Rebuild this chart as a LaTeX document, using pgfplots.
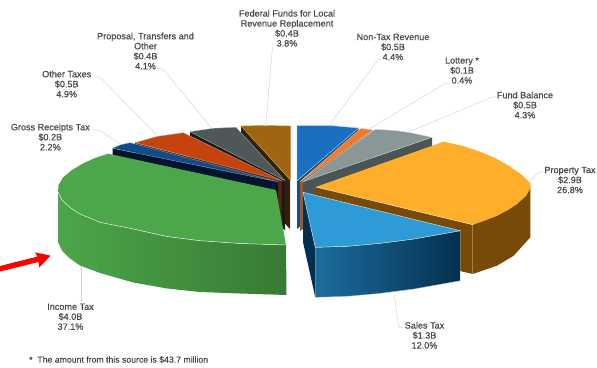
\documentclass[border=0pt]{standalone}
\usepackage{pgfplots}
\pgfplotsset{compat=1.18}
\usepackage{fontspec}
\setmainfont[FakeBold=0.35]{Liberation Sans}
% slice colours: top face and side wall
\definecolor{incomeT}{HTML}{4CA64A}
\definecolor{incomeD}{HTML}{387A34}
\definecolor{propT}{HTML}{FFAE2B}
\definecolor{propW}{HTML}{774A08}
\definecolor{salesT}{HTML}{2E9BD6}
\definecolor{salesL}{HTML}{1B6D9E}
\definecolor{salesM}{HTML}{0E4C72}
\definecolor{salesD}{HTML}{04304F}
\definecolor{nontaxT}{HTML}{1B6FC0}
\definecolor{nontaxW}{HTML}{134F8A}
\definecolor{lotT}{HTML}{F07A2B}
\definecolor{lotW}{HTML}{A85520}
\definecolor{fundT}{HTML}{8A9797}
\definecolor{fundW}{HTML}{4A5454}
\definecolor{fedT}{HTML}{9F6514}
\definecolor{fedW}{HTML}{33200A}
\definecolor{propoT}{HTML}{4E5858}
\definecolor{propoW}{HTML}{181C1C}
\definecolor{otherT}{HTML}{C5430F}
\definecolor{otherW}{HTML}{5E2410}
\definecolor{grossT}{HTML}{0F4C88}
\definecolor{grossW}{HTML}{02152E}
\definecolor{leader}{HTML}{CFCFCF}
\definecolor{edge}{HTML}{E4EAE4}
\definecolor{labeltext}{HTML}{484848}
\tikzset{lab/.style={font=\fontsize{9.1}{10}\selectfont, text=labeltext, align=center, inner sep=0pt}}
\begin{document}
\begin{tikzpicture}
\useasboundingbox (0,0) rectangle (597pt,367pt);
\begin{axis}[
  width=597pt, height=367pt, scale only axis,
  xmin=0, xmax=597, ymin=0, ymax=367, y dir=reverse,
  axis lines=none, clip=false,
]
% --- back slices, left of the gap ---
\addplot[fill=fedW, draw=none] coordinates {(241,126) (290,180) (290,229) (241,176)} --cycle;
\addplot[fill=fedT, draw=fedT!60!yellow, line width=0.4pt] coordinates {(241,126) (265,125.5) (290.5,126) (290.5,180)} --cycle;
\addplot[fill=propoW, draw=none] coordinates {(190,131.7) (285,180.7) (285,230) (190,181.7)} --cycle;
\addplot[fill=propoT, draw=edge!60!propoT, line width=0.3pt] coordinates {(190,131.7) (213.3,128.3) (236,127.3) (285,180.7)} --cycle;
\addplot[fill=otherW, draw=none] coordinates {(135,142.7) (281.7,180.7) (281.7,230) (135,192.7)} --cycle;
\addplot[fill=otherT, draw=edge!60!otherT, line width=0.3pt] coordinates {(135,142.7) (156.7,136.5) (183.3,132.7) (281.7,180.7)} --cycle;
\addplot[fill=grossW, draw=none] coordinates {(112.7,148.3) (278,182) (278,232) (112.7,198)} --cycle;
\addplot[fill=grossT, draw=edge!60!grossT, line width=0.3pt] coordinates {(112.7,148.3) (120,145) (130,142.7) (278,181.7)} --cycle;
% --- income tax ---
\addplot[draw=none, left color=incomeT, middle color=incomeT, right color=incomeD] coordinates {
  (58,192) (62,200) (70,207.5) (80,214) (100,222.3) (133.3,229) (167,236.5) (200,240.7) (240,243.5) (286,245)
  (286.5,295) (240,293.5) (200,292) (167,288.5) (133.3,282.5) (100,273) (80,265.5) (70,258.5) (62,250.5) (58,242)
} --cycle;
\addplot[fill=incomeT, draw=none] coordinates {
  (108.3,153.7) (95,158) (83,163.5) (72,170) (63,177.5) (58.5,185) (58,192) (62,200) (70,207.5) (80,214)
  (100,222.3) (133.3,229) (167,236.5) (200,240.7) (240,243.5) (286,245) (276,190)
} --cycle;
\addplot[draw=edge, line width=0.5pt] coordinates {
  (58,192) (62,200) (70,207.5) (80,214) (100,222.3) (133.3,229) (167,236.5) (200,240.7) (240,243.5) (286,245)
};
% --- front and right slices ---
\addplot[fill=nontaxW, draw=none] coordinates {(358.7,128) (297,180.7) (297,229) (358.7,178)} --cycle;
\addplot[fill=nontaxT, draw=edge!80!nontaxT, line width=0.4pt] coordinates {(297,125.5) (330,125.5) (358.7,128) (297,180.7)} --cycle;
\addplot[fill=lotW, draw=none] coordinates {(373,130) (300,181.7) (300,231) (373,180)} --cycle;
\addplot[fill=lotT, draw=edge!80!lotT, line width=0.3pt] coordinates {(361,128.3) (373,130) (300,181.7)} --cycle;
\addplot[fill=fundW, draw=none] coordinates {(432,137.3) (303,181.7) (303,232) (432,187)} --cycle;
\addplot[fill=fundT, draw=edge!80!fundT, line width=0.3pt] coordinates {(375.3,129.3) (395,130.5) (410.3,132.7) (432,137.3) (303,181.7)} --cycle;
% property tax
\addplot[fill=propW, draw=none] coordinates {
  (315.7,187) (472.7,224.7) (497,215.7) (517,204) (530.3,187.3) (530.3,237.3) (513.7,255.7) (497,265.7) (472.7,274) (315.7,237)
} --cycle;
\addplot[fill=propT, draw=none] coordinates {
  (315.7,187) (443.7,141.7) (463,146) (480.3,151.7) (496,158.5) (510.3,166.7) (522,175) (530.3,183) (530.8,187.5)
  (526,196) (517,204) (508,210) (497,215.7) (485,220.5) (472.7,224.7)
} --cycle;
\addplot[draw=edge, line width=0.4pt] coordinates {(315.7,187) (472.7,224.7) (472.7,274)};
% sales tax
\addplot[fill=salesD, draw=none] coordinates {(303,192.3) (303,242) (315.3,297.3) (315.3,247.3)} --cycle;
\addplot[draw=edge!70!salesL, line width=0.3pt, left color=salesL, middle color=salesM, right color=salesD] coordinates {
  (315.3,247.3) (347,246.3) (380.3,243.3) (413.7,239) (460.3,230.7)
  (460.3,280.7) (413.7,289) (380.3,293.3) (347,296.3) (315.3,297.3)
} --cycle;
\addplot[fill=salesT, draw=edge, line width=0.4pt] coordinates {
  (303,192.3) (460.3,230.7) (413.7,239) (380.3,243.3) (347,246.3) (315.3,247.3)
} --cycle;
% --- leader lines ---
\addplot[leader, line width=0.4pt] coordinates {(276,46.7) (272.5,46.7) (265.7,126)};
\addplot[leader, line width=0.4pt] coordinates {(156.7,68.3) (163.3,69.3) (211.7,128.3)};
\addplot[leader, line width=0.4pt] coordinates {(94,76) (100,77.3) (156.7,135)};
\addplot[leader, line width=0.4pt] coordinates {(92.7,129.3) (100,130.7) (120,144)};
\addplot[leader, line width=0.4pt] coordinates {(381,59.3) (378,60) (329.3,125)};
\addplot[leader, line width=0.4pt] coordinates {(450.3,83) (445.3,83.3) (370.3,128.3)};
\addplot[leader, line width=0.4pt] coordinates {(497,96.7) (491.3,97.3) (407,132.7)};
\addplot[leader, line width=0.4pt] coordinates {(544.3,171.7) (538.7,172.3) (528.7,182.7)};
\addplot[leader, line width=0.4pt] coordinates {(81,265.7) (81,302.3)};
\addplot[leader, line width=0.4pt] coordinates {(394.3,294.7) (398.7,327.3) (404.3,328)};
% --- red pointer ---
\addplot[fill=red, draw=none] coordinates {
  (0,266) (37.5,256.6) (35,252.3) (50.7,255.7) (39.3,267.3) (38.5,262) (0,271.5)
} --cycle;
% --- slice labels ---
\node[lab] at (axis cs:287,28.3) {Federal Funds for Local\\Revenue Replacement\\\$0.4B\\3.8\%};
\node[lab] at (axis cs:145.5,51) {Proposal, Transfers and\\Other\\\$0.4B\\4.1\%};
\node[lab] at (axis cs:66.7,84) {Other Taxes\\\$0.5B\\4.9\%};
\node[lab] at (axis cs:50.3,137) {Gross Receipts Tax\\\$0.2B\\2.2\%};
\node[lab] at (axis cs:393,47) {Non-Tax Revenue\\\$0.5B\\4.4\%};
\node[lab] at (axis cs:462,70.5) {Lottery *\\\$0.1B\\0.4\%};
\node[lab] at (axis cs:525,105) {Fund Balance\\\$0.5B\\4.3\%};
\node[lab] at (axis cs:570,180) {Property Tax\\\$2.9B\\26.8\%};
\node[lab] at (axis cs:70.5,316.7) {Income Tax\\\$4.0B\\37.1\%};
\node[lab] at (axis cs:424.5,335.3) {Sales Tax\\\$1.3B\\12.0\%};
\node[lab, anchor=west, font=\fontsize{8.7}{10}\selectfont] at (axis cs:29,359.7) {*\ \ The amount from this source is \$43.7 million};
\end{axis}
\end{tikzpicture}
\end{document}
